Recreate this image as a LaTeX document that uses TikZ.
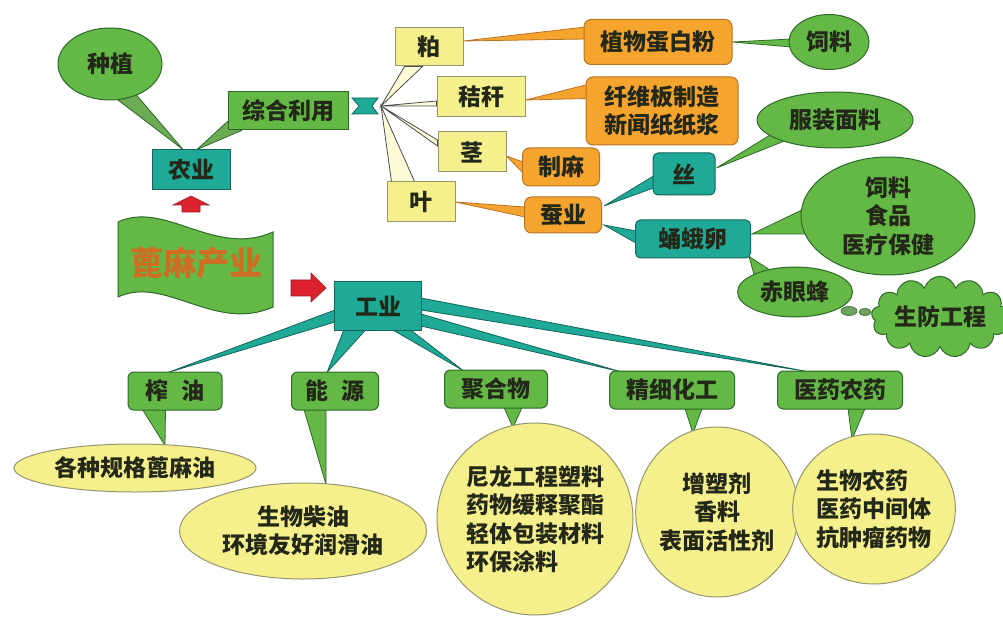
\documentclass[tikz,border=0pt]{standalone}
\usepackage{fontspec}
\setmainfont{Noto Sans CJK SC}
\usetikzlibrary{calc,shapes.geometric,shapes.symbols}
\definecolor{gfill}{RGB}{100,185,70}
\definecolor{gdraw}{RGB}{45,105,40}
\definecolor{tfill}{RGB}{30,170,150}
\definecolor{tdraw}{RGB}{20,100,90}
\definecolor{yfill}{RGB}{246,240,140}
\definecolor{ydraw}{RGB}{150,150,110}
\definecolor{ofill}{RGB}{245,165,45}
\definecolor{odraw}{RGB}{185,115,35}
\definecolor{ink}{RGB}{35,40,25}
\definecolor{redA}{RGB}{220,35,45}
\definecolor{brownT}{RGB}{205,110,35}
\pgfdeclarelayer{bg}
\pgfsetlayers{bg,main}
\newcommand\callwedge[4]{\filldraw[#1] #2 -- #3 -- #4 -- cycle;}
\begin{document}
\begin{tikzpicture}[x=1pt,y=-1pt,line width=1pt,
  every node/.style={font=\bfseries\fontsize{23}{28.5}\selectfont,text=ink,inner sep=0pt,align=center},
  gell/.style={ellipse,draw=gdraw,fill=gfill},
  gbox/.style={rectangle,draw=gdraw,fill=gfill},
  gcat/.style={rectangle,rounded corners=6,draw=gdraw,fill=gfill,minimum height=38},
  tbox/.style={rectangle,draw=tdraw,fill=tfill},
  ybox/.style={rectangle,draw=ydraw,fill=yfill},
  obox/.style={rectangle,rounded corners=7,draw=odraw,fill=ofill},
  yell/.style={ellipse,draw=ydraw,fill=yfill},
  gw/.style={fill=gfill,draw=gdraw,line width=0.8pt},
  gwg/.style={fill=gfill!75!gray,draw=gdraw,line width=0.8pt},
  tw/.style={fill=tfill,draw=tdraw,line width=0.8pt},
  yw/.style={fill=yfill!35,draw=gray!60!black,line width=0.8pt},
  ow/.style={fill=ofill,draw=odraw,line width=0.8pt},
  redarrow/.style={fill=redA,draw=redA!70!black,line width=0.6pt}]
\useasboundingbox (0,0) rectangle (1003,617);

% agriculture
\node[gell,minimum width=104,minimum height=72] (zz) at (110,64) {种植};
\node[tbox,minimum width=78,minimum height=40] (ny) at (191,170) {农业};
\node[gbox,minimum width=120,minimum height=38] (zh) at (288,111) {综合利用};
\coordinate (bt) at (367,106);
\coordinate (btr) at (381,106);
\filldraw[fill=tfill,draw=tdraw,line width=0.8pt] (352,98) -- (378,98) -- (372,106) -- (378,114) -- (352,114) -- (359,106) -- cycle;

\node[ybox,minimum width=68,minimum height=38] (po) at (429,47) {粕};
\node[ybox,minimum width=88,minimum height=40] (jg) at (481,97) {秸秆};
\node[ybox,minimum width=68,minimum height=40] (jing) at (472,152) {茎};
\node[ybox,minimum width=68,minimum height=40] (ye) at (421,202) {叶};

\node[obox,minimum width=148,minimum height=45] (zw) at (658,42) {植物蛋白粉};
\node[obox,minimum width=152,minimum height=68] (xw) at (662,111) {纤维板制造\\新闻纸纸浆};
\node[obox,minimum width=77,minimum height=38] (zm) at (561,167) {制麻};
\node[obox,minimum width=77,minimum height=36] (cy) at (563,215) {蚕业};

\node[tbox,rounded corners=5,minimum width=62,minimum height=42] (si) at (684,174) {丝};
\node[tbox,rounded corners=5,minimum width=115,minimum height=38] (ld) at (693,239) {蛹蛾卵};

\node[gell,minimum width=80,minimum height=55] (sl) at (829,42) {饲料};
\node[gell,minimum width=156,minimum height=56] (fz) at (835,120) {服装面料};
\node[gell,minimum width=174,minimum height=118] (big) at (888,216) {饲料\\食品\\医疗保健};
\node[gell,minimum width=115,minimum height=50] (cyf) at (795,292) {赤眼蜂};
\node[cloud,cloud puffs=13,aspect=2.2,draw=gdraw,fill=gfill,minimum width=125,minimum height=60] (sf) at (940,317) {生防工程};
\filldraw[fill=gfill!60!gray,draw=gdraw,line width=0.6pt] ($(cyf.east)+(-4,19)$) ellipse [x radius=8,y radius=4.5];
\filldraw[fill=gfill!60!gray,draw=gdraw,line width=0.6pt] ($(cyf.east)+(12,20)$) ellipse [x radius=6,y radius=3.5];

% banner and arrows
\filldraw[fill=gfill,draw=gdraw,line width=1pt] (118,222) .. controls (165,200) and (215,258) .. (273,232) -- (273,307) .. controls (215,333) and (165,275) .. (118,297) -- cycle;
\node[text=brownT,font=\bfseries\fontsize{33}{36}\selectfont] (bm) at (196,263) {蓖麻产业};
\filldraw[redarrow] (173,205) -- (191,196) -- (209,205) -- (200,205) -- (200,212) -- (182,212) -- (182,205) -- cycle;
\filldraw[redarrow] (291,280) -- (311,280) -- (311,273) -- (326,288) -- (311,302) -- (311,296) -- (291,296) -- cycle;

% industry
\node[tbox,minimum width=87,minimum height=48] (gy) at (378,306) {工业};
\node[gcat,minimum width=94] (zy) at (175,391) {榨\hspace{0.6em}油};
\node[gcat,minimum width=87] (ny2) at (335,391) {能\hspace{0.6em}源};
\node[gcat,minimum width=103] (jh) at (496,389) {聚合物};
\node[gcat,minimum width=125] (jx) at (672,390) {精细化工};
\node[gcat,minimum width=125] (yy) at (840,390) {医药农药};

\node[yell,minimum width=242,minimum height=48] (e1) at (135,468) {各种规格蓖麻油};
\node[yell,minimum width=247,minimum height=96] (e2) at (303,531) {生物柴油\\环境友好润滑油};
\node[yell,minimum width=196,minimum height=192,align=left] (e3) at (535,519) {尼龙工程塑料\\药物缓释聚酯\\轻体包装材料\\环保涂料};
\node[yell,minimum width=150,minimum height=170] (e4) at (717,512) {增塑剂\\香料\\表面活性剂};
\node[yell,minimum width=148,minimum height=150,align=left] (e5) at (874,509) {生物农药\\医药中间体\\抗肿瘤药物};

\begin{pgfonlayer}{bg}
  \fill[white] (0,0) rectangle (1003,617);
  \callwedge{gwg}{($(zz.south)+(6,-2)$)}{($(zz.south)+(26,-6)$)}{($(ny.north)+(-8,0)$)}
  \callwedge{gwg}{($(zh.south west)+(0,-9)$)}{($(zh.south west)+(14,0)$)}{($(ny.north)+(6,0)$)}
  \callwedge{yw}{($(po.south west)+(10,0)$)}{($(po.south west)+(28,0)$)}{(btr)}
  \callwedge{yw}{($(jg.west)+(0,4)$)}{($(jg.west)+(0,9)$)}{(btr)}
  \callwedge{yw}{($(jing.west)+(0,-12)$)}{($(jing.west)+(0,-6)$)}{(btr)}
  \callwedge{yw}{($(ye.north west)+(5,0)$)}{($(ye.north west)+(28,0)$)}{(btr)}
  \callwedge{ow}{($(zw.north west)+(2,8)$)}{($(zw.north west)+(2,20)$)}{($(po.east)+(0,-6)$)}
  \callwedge{ow}{($(xw.north west)+(2,8)$)}{($(xw.north west)+(2,22)$)}{($(jg.east)+(0,3)$)}
  \callwedge{ow}{($(zm.west)+(1,-5)$)}{($(zm.west)+(1,6)$)}{($(jing.east)+(0,4)$)}
  \callwedge{ow}{($(cy.west)+(1,-8)$)}{($(cy.west)+(1,2)$)}{(ye.east)}
  \callwedge{tw}{($(si.west)+(1,2)$)}{($(si.west)+(1,14)$)}{($(cy.east)+(2,-9)$)}
  \callwedge{tw}{($(ld.west)+(1,-8)$)}{($(ld.west)+(1,4)$)}{($(cy.east)+(2,10)$)}
  \callwedge{gw}{($(sl.west)+(3,-3)$)}{($(sl.west)+(3,5)$)}{(zw.east)}
  \callwedge{gw}{($(fz.center)+(-60,12)$)}{($(fz.center)+(-48,20)$)}{($(si.east)+(1,-6)$)}
  \callwedge{gw}{($(big.center)+(-82,-8)$)}{($(big.center)+(-78,18)$)}{($(ld.east)+(1,-5)$)}
  \callwedge{gw}{($(cyf.center)+(-40,-14)$)}{($(cyf.center)+(-22,-20)$)}{($(ld.south east)+(-2,-2)$)}
  % industry wedges
  \callwedge{tw}{($(gy.west)+(1,4)$)}{($(gy.west)+(1,16)$)}{($(zy.north)+(-7,1)$)}
  \callwedge{tw}{($(gy.south west)+(10,-1)$)}{($(gy.south west)+(32,-1)$)}{($(ny2.north)+(-8,1)$)}
  \callwedge{tw}{($(gy.south)+(14,-1)$)}{($(gy.south)+(32,-1)$)}{($(jh.north)+(-33,1)$)}
  \callwedge{tw}{($(gy.east)+(-1,8)$)}{($(gy.east)+(-1,20)$)}{($(jx.north)+(-52,1)$)}
  \callwedge{tw}{($(gy.east)+(-1,-8)$)}{($(gy.east)+(-1,4)$)}{($(yy.north)+(-33,1)$)}
  % category pointers
  \callwedge{gw}{($(zy.south west)+(15,-1)$)}{($(zy.south west)+(38,-1)$)}{($(e1.north)+(30,2)$)}
  \callwedge{gw}{($(ny2.south west)+(13,-1)$)}{($(ny2.south west)+(35,-1)$)}{($(e2.north)+(23,2)$)}
  \callwedge{gw}{($(jh.south)+(8,-1)$)}{($(jh.south)+(26,-1)$)}{($(e3.north)+(-22,5)$)}
  \callwedge{gw}{($(jx.south)+(13,-1)$)}{($(jx.south)+(30,-1)$)}{($(e4.north)+(-24,7)$)}
  \callwedge{gw}{($(yy.south)+(8,-1)$)}{($(yy.south)+(25,-1)$)}{($(e5.north)+(-22,6)$)}
\end{pgfonlayer}
\end{tikzpicture}
\end{document}
